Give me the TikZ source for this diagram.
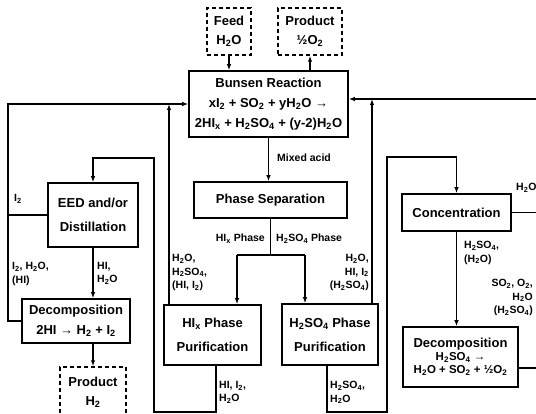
\documentclass[tikz,border=0pt]{standalone}
\usepackage{fontspec}
\setmainfont{Liberation Sans}
\usetikzlibrary{arrows.meta}
\newcommand{\mysub}[1]{\textsubscript{#1}}
\begin{document}
\begin{tikzpicture}[x=1pt,y=-1pt,
  box/.style={draw, line width=1.6pt, align=center, inner sep=0pt, font=\bfseries\fontsize{13}{20}\selectfont},
  boxw/.style={box, font=\bfseries\fontsize{13}{24}\selectfont},
  dbox/.style={draw, line width=1.4pt, dash pattern=on 4pt off 3pt, align=center, inner sep=0pt, font=\bfseries\fontsize{13}{19}\selectfont},
  conn/.style={line width=1.3pt},
  arr/.style={conn, -{Latex[length=6pt,width=4.5pt]}},
  lbl/.style={inner sep=0pt, font=\bfseries\fontsize{10.5}{13.5}\selectfont},
]
\useasboundingbox (0,0) rectangle (536,414);
\begin{scope}
\clip (0,0) rectangle (536,414);
% boxes
\node[dbox, minimum width=44, minimum height=47] (feed) at (229,31.5) {Feed\\H\mysub{2}O};
\node[dbox, minimum width=64, minimum height=47] (prodo) at (310,31.5) {Product\\½O\mysub{2}};
\node[box, minimum width=159, minimum height=66] (bunsen) at (268.5,104) {Bunsen Reaction\\xI\mysub{2} + SO\mysub{2} + yH\mysub{2}O →\\2HI\mysub{x} + H\mysub{2}SO\mysub{4} + (y-2)H\mysub{2}O};
\node[box, minimum width=153, minimum height=36] (psep) at (270.5,200) {Phase Separation};
\node[boxw, minimum width=90, minimum height=64] (eed) at (93,215) {EED and/or\\Distillation};
\node[box, minimum width=108, minimum height=44] (dhi) at (76,321) {Decomposition\\2HI → H\mysub{2} + I\mysub{2}};
\node[dbox, minimum width=66, minimum height=50] (prodh) at (93,392) {Product\\H\mysub{2}};
\node[boxw, minimum width=97, minimum height=60] (hix) at (212.5,335) {HI\mysub{x} Phase\\Purification};
\node[boxw, minimum width=96, minimum height=61] (hso) at (330,334.5) {H\mysub{2}SO\mysub{4} Phase\\Purification};
\node[box, minimum width=109, minimum height=37] (conc) at (456.5,212.5) {Concentration};
\node[box, minimum width=115, minimum height=60, font=\bfseries\fontsize{11.5}{13}\selectfont] (dso) at (460.5,357) {{\fontsize{13}{16}\selectfont Decomposition}\\H\mysub{2}SO\mysub{4} →\\H\mysub{2}O + SO\mysub{2} + ½O\mysub{2}};
% coordinates
\coordinate (lrail) at (8,104);
\coordinate (split) at (270,255);
\coordinate (sl) at (237,255);
\coordinate (sr) at (305,255);
\coordinate (hb) at (216,412);
\coordinate (lt) at (154,158);
\coordinate (hup) at (169,104);
\coordinate (ru) at (372,99);
\coordinate (rtop) at (536,99);
\coordinate (hsb) at (327,412);
\coordinate (ct) at (387,157);
\coordinate (dsoout) at (536,368);
% connectors
\draw[arr] (feed.south) -- (feed.south |- bunsen.north);
\draw[arr] (prodo.south |- bunsen.north) -- (prodo.south);
\draw[arr] (bunsen.south) -- (bunsen.south |- psep.north);
\draw[conn] (psep.south) -- (psep.south |- split);
\draw[conn] (sl) -- (sr);
\draw[arr] (sl) -- (sl |- hix.north);
\draw[arr] (sr) -- (sr |- hso.north);
\draw[arr] (dhi.west) -| (lrail) -- (bunsen.west);
\draw[conn] (eed.west) -- (eed.west -| lrail);
\draw[arr] (hix.north -| hup) -- (hup);
\draw[arr] (eed.south) -- (eed.south |- dhi.north);
\draw[arr] (dhi.south -| prodh.north) -- (prodh.north);
\draw[arr] (hix.south -| hb) -- (hb) -| (lt) -| (eed.north);
\draw[arr] (hso.north -| ru) -- (ru);
\draw[arr] (rtop) -- (bunsen.east |- rtop);
\draw[conn] (conc.east) -- (conc.east -| rtop);
\draw[conn] (dsoout -| dso.east) -- (dsoout);
\draw[arr] (hso.south -| hsb) -- (hsb) -| (ct) -| (conc.north);
\draw[arr] (conc.south) -- (conc.south |- dso.north);
% labels
\node[lbl, anchor=west] (lmix) at (277,158) {Mixed acid};
\node[lbl, anchor=east] (lhix) at (265,239) {HI\mysub{x} Phase};
\node[lbl, anchor=west] (lhso) at (276,239) {H\mysub{2}SO\mysub{4} Phase};
\node[lbl, anchor=west] (li2) at (14,199) {I\mysub{2}};
\node[lbl, anchor=north west, align=left] (ldhi) at (12,262) {I\mysub{2}, H\mysub{2}O,\\(HI)};
\node[lbl, anchor=north west, align=left] (lhih) at (97,262) {HI,\\H\mysub{2}O};
\node[lbl, anchor=north west, align=left] (lhixin) at (172,254) {H\mysub{2}O,\\H\mysub{2}SO\mysub{4},\\(HI, I\mysub{2})};
\node[lbl, anchor=north east, align=right] (lhsoin) at (369,254) {H\mysub{2}O,\\HI, I\mysub{2}\\(H\mysub{2}SO\mysub{4})};
\node[lbl, anchor=north west, align=left] (lhixout) at (219,381) {HI, I\mysub{2},\\H\mysub{2}O};
\node[lbl, anchor=north west, align=left] (lhsoout) at (330,381) {H\mysub{2}SO\mysub{4},\\H\mysub{2}O};
\node[lbl, anchor=west] (lh2o) at (516,188) {H\mysub{2}O};
\node[lbl, anchor=north west, align=left] (lconcout) at (464,241) {H\mysub{2}SO\mysub{4},\\(H\mysub{2}O)};
\node[lbl, anchor=north east, align=right] (ldso) at (533,279) {SO\mysub{2}, O\mysub{2},\\H\mysub{2}O\\(H\mysub{2}SO\mysub{4})};
\end{scope}
\end{tikzpicture}
\end{document}
